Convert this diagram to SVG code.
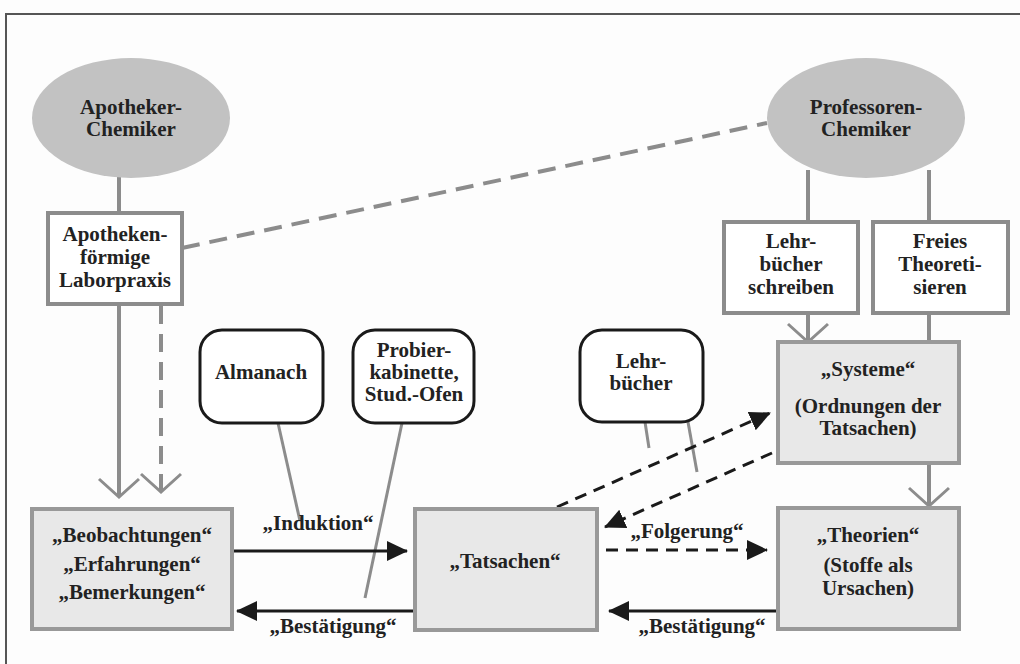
<svg xmlns="http://www.w3.org/2000/svg" width="1020" height="664" viewBox="0 0 1020 664">
<style>
text{font-family:"Liberation Serif","Times New Roman",serif;font-weight:bold;font-size:21px;fill:#222;text-anchor:middle}
.ell{fill:#c2c2c2;stroke:none}
.wbox{fill:#fff;stroke:#8c8c8c;stroke-width:4}
.gbox{fill:#e8e8e8;stroke:#999;stroke-width:4}
.rbox{fill:#fff;stroke:#1a1a1a;stroke-width:3}
.gl{stroke:#8c8c8c;stroke-width:4;fill:none}
.gd{stroke:#8c8c8c;stroke-width:4;fill:none;stroke-dasharray:18 10}
.gt{stroke:#8c8c8c;stroke-width:3;fill:none}
.bl{stroke:#1a1a1a;stroke-width:3;fill:none}
.bd{stroke:#1a1a1a;stroke-width:3;fill:none;stroke-dasharray:12 8}
</style>
<defs>
<marker id="tri" markerUnits="userSpaceOnUse" markerWidth="22" markerHeight="22" viewBox="0 0 22 22" refX="20" refY="11" orient="auto">
<path d="M0,1 L21,11 L0,21 Z" fill="#1a1a1a"/>
</marker>
<marker id="vee" markerUnits="userSpaceOnUse" markerWidth="24" markerHeight="46" viewBox="0 0 24 46" refX="21" refY="23" orient="auto">
<path d="M3,3 L21,23 L3,43" fill="none" stroke="#8c8c8c" stroke-width="3"/>
</marker>
</defs>
<rect width="1020" height="664" fill="#fdfdfd"/>
<path d="M6,664 V14 H1020" fill="none" stroke="#555" stroke-width="2"/>

<g id="connectors">
<line class="gl" x1="119" y1="170" x2="119" y2="213"/>
<line class="gd" x1="182" y1="248" x2="767" y2="123"/>
<line class="gl" x1="808" y1="170" x2="808" y2="222"/>
<line class="gl" x1="929" y1="170" x2="929" y2="222"/>
<line class="gl" x1="119" y1="304" x2="119" y2="497" marker-end="url(#vee)"/>
<line class="gd" x1="161" y1="306" x2="161" y2="492" marker-end="url(#vee)"/>
<line class="gl" x1="808" y1="313" x2="808" y2="342" marker-end="url(#vee)"/>
<line class="gl" x1="929" y1="313" x2="929" y2="342"/>
<line class="gl" x1="929" y1="463" x2="929" y2="506" marker-end="url(#vee)"/>
<line class="gt" x1="278" y1="423" x2="300" y2="521"/>
<line class="gt" x1="402" y1="423" x2="365" y2="598"/>
<line class="gt" x1="645" y1="422" x2="649" y2="448"/>
<line class="gt" x1="688" y1="422" x2="697" y2="472"/>
<line class="bl" x1="232" y1="551" x2="407" y2="551" marker-end="url(#tri)"/>
<line class="bl" x1="415" y1="611" x2="237" y2="611" marker-end="url(#tri)"/>
<line class="bd" x1="606" y1="550" x2="767" y2="550" marker-end="url(#tri)"/>
<line class="bl" x1="778" y1="611" x2="609" y2="611" marker-end="url(#tri)"/>
<line class="bd" x1="557" y1="507" x2="770" y2="413" marker-end="url(#tri)"/>
<line class="bd" x1="772" y1="453" x2="605" y2="527" marker-end="url(#tri)"/>
<text x="318" y="530">„Induktion“</text>
<text x="333" y="633">„Bestätigung“</text>
<text x="687" y="538">„Folgerung“</text>
<text x="702" y="633">„Bestätigung“</text>
</g>

<g id="apotheker">
<ellipse class="ell" cx="131" cy="118" rx="99" ry="60"/>
<text x="131" y="114">Apotheker-</text>
<text x="131" y="136">Chemiker</text>
</g>
<g id="professoren">
<ellipse class="ell" cx="866" cy="118" rx="99" ry="60"/>
<text x="866" y="114">Professoren-</text>
<text x="866" y="136">Chemiker</text>
</g>
<g id="laborpraxis">
<rect class="wbox" x="48" y="213" width="134" height="91"/>
<text x="115" y="241">Apotheken-</text>
<text x="115" y="264">förmige</text>
<text x="115" y="287">Laborpraxis</text>
</g>
<g id="lehrbuecher-schreiben">
<rect class="wbox" x="724" y="222" width="134" height="91"/>
<text x="791" y="248">Lehr-</text>
<text x="791" y="271">bücher</text>
<text x="791" y="294">schreiben</text>
</g>
<g id="freies">
<rect class="wbox" x="873" y="222" width="135" height="91"/>
<text x="940" y="248">Freies</text>
<text x="940" y="271">Theoreti-</text>
<text x="940" y="294">sieren</text>
</g>
<g id="almanach">
<rect class="rbox" x="200" y="330" width="123" height="93" rx="22"/>
<text x="261" y="379">Almanach</text>
</g>
<g id="probier">
<rect class="rbox" x="353" y="330" width="121" height="93" rx="22"/>
<text x="414" y="357">Probier-</text>
<text x="414" y="379">kabinette,</text>
<text x="414" y="401">Stud.-Ofen</text>
</g>
<g id="lehrbuecher">
<rect class="rbox" x="580" y="330" width="123" height="92" rx="22"/>
<text x="641" y="368">Lehr-</text>
<text x="641" y="390">bücher</text>
</g>
<g id="systeme">
<rect class="gbox" x="778" y="342" width="181" height="121"/>
<text x="868" y="376">„Systeme“</text>
<text x="868" y="413">(Ordnungen der</text>
<text x="868" y="435">Tatsachen)</text>
</g>
<g id="beobachtungen">
<rect class="gbox" x="32" y="509" width="200" height="120"/>
<text x="132" y="542">„Beobachtungen“</text>
<text x="132" y="571">„Erfahrungen“</text>
<text x="132" y="599">„Bemerkungen“</text>
</g>
<g id="tatsachen">
<rect class="gbox" x="415" y="509" width="182" height="121"/>
<text x="505" y="568">„Tatsachen“</text>
</g>
<g id="theorien">
<rect class="gbox" x="778" y="508" width="181" height="121"/>
<text x="868" y="542">„Theorien“</text>
<text x="868" y="572">(Stoffe als</text>
<text x="868" y="595">Ursachen)</text>
</g>
</svg>
